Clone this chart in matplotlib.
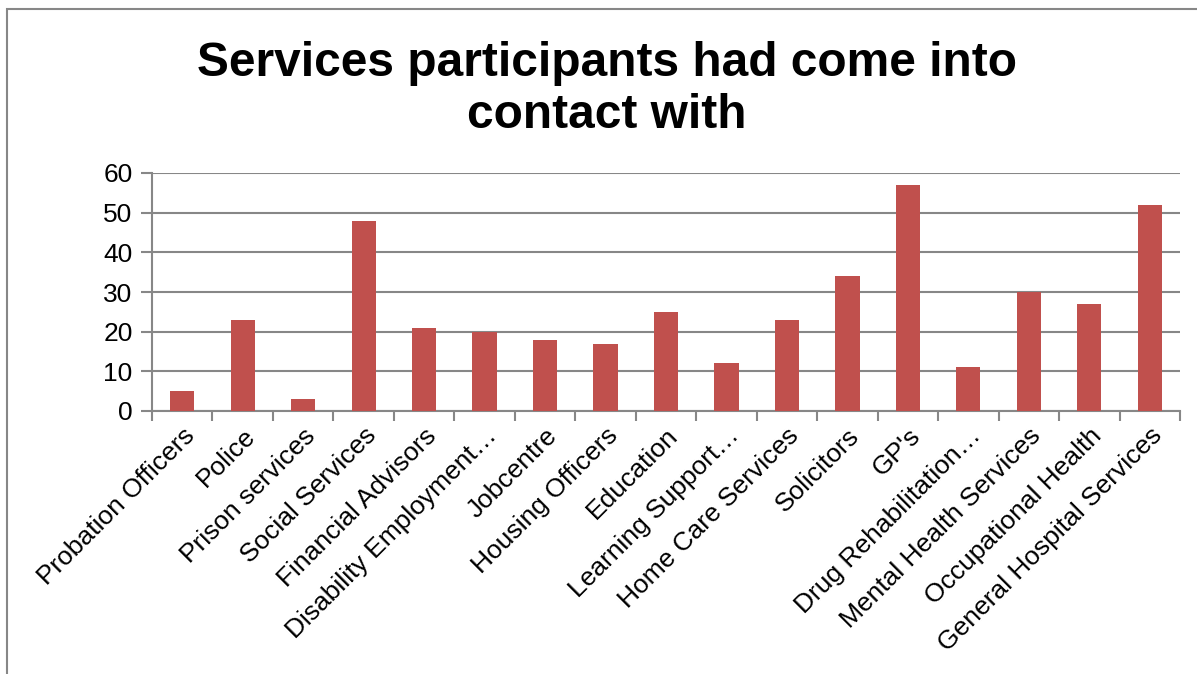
import matplotlib.pyplot as plt
import matplotlib.patches as patches
import numpy as np

plt.rcParams['font.family'] = ['Liberation Sans', 'DejaVu Sans']

services = ["Probation Officers", "Police", "Prison services", "Social Services",
            "Financial Advisors", "Disability Employment…", "Jobcentre",
            "Housing Officers", "Education", "Learning Support…",
            "Home Care Services", "Solicitors", "GP's", "Drug Rehabilitation…",
            "Mental Health Services", "Occupational Health",
            "General Hospital Services"]
counts = [5, 23, 3, 48, 21, 20, 18, 17, 25, 12, 23, 34, 57, 11, 30, 27, 52]
yticks = [0, 10, 20, 30, 40, 50, 60]

grey = '#878787'
fig = plt.figure(figsize=(11.97, 6.74), dpi=100)

# outer chart frame (runs off right and bottom edges)
fig.patches.append(patches.Rectangle((7/1197, -0.05), 1.1, 1 - 9/674 + 0.05,
                                     transform=fig.transFigure, fill=False,
                                     edgecolor=grey, linewidth=1.5))

ax = fig.add_axes([152/1197, 1 - 411/674, (1180 - 152)/1197, (411 - 173)/674])
x = np.arange(len(services))
ax.bar(x, counts, width=0.4, color='#C0504D', zorder=3)

ax.set_xlim(-0.5, len(services) - 0.5)
ax.set_ylim(0, 60)
ax.set_yticks(yticks)
ax.set_yticklabels([str(v) for v in yticks], fontsize=19)
ax.yaxis.grid(True, color=grey, linewidth=1.5, zorder=0)
ax.tick_params(axis='y', length=8, width=1.5, color=grey, pad=6)

ax.set_xticks(x)
ax.set_xticklabels(services, rotation=45, ha='right', rotation_mode='anchor',
                   fontsize=19)
ax.tick_params(axis='x', length=0, pad=9)
ax.set_xticks(np.arange(len(services) + 1) - 0.5, minor=True)
ax.tick_params(axis='x', which='minor', length=7, width=1.5, color=grey)

for s in ['top', 'right']:
    ax.spines[s].set_visible(False)
for s in ['left', 'bottom']:
    ax.spines[s].set_color(grey)
    ax.spines[s].set_linewidth(1.5)

fig.text(607/1197, 1 - 89/674, "Services participants had come into\ncontact with",
         ha='center', va='center', fontsize=34.5, fontweight='bold',
         linespacing=1.2)

fig.savefig('out.png', dpi=100)
